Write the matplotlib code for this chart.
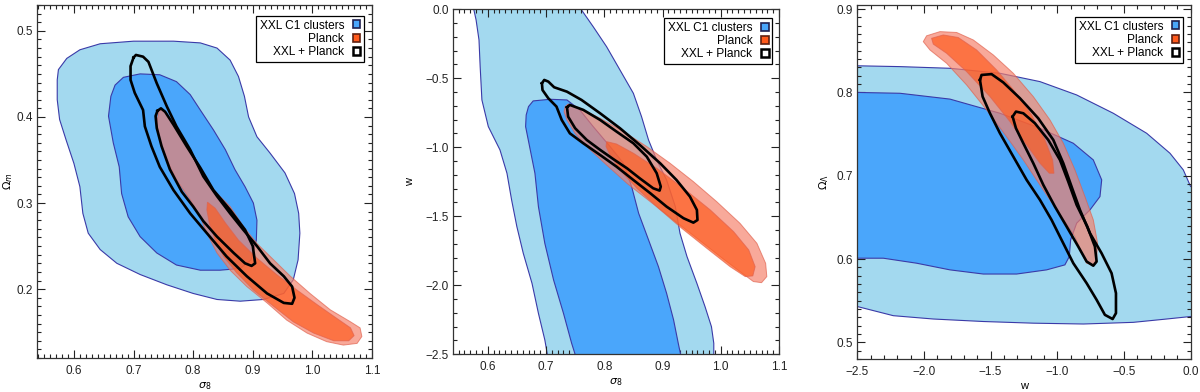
import matplotlib
matplotlib.use("Agg")
import matplotlib.pyplot as plt
from matplotlib.ticker import MultipleLocator, FuncFormatter
from matplotlib.patches import Patch

plt.rcParams["font.family"] = ["Liberation Sans", "DejaVu Sans"]

# Contour outlines, in data units (x, y).
# Panel 1: sigma_8 vs Omega_m
p1_xxl_outer = [(0.572, 0.443), (0.574, 0.455), (0.588, 0.468), (0.610, 0.478), (0.644, 0.485),
                (0.700, 0.488), (0.767, 0.488), (0.812, 0.486), (0.840, 0.480), (0.862, 0.466),
                (0.876, 0.447), (0.886, 0.424), (0.893, 0.400), (0.907, 0.377), (0.929, 0.358),
                (0.954, 0.335), (0.970, 0.311), (0.977, 0.288), (0.979, 0.265), (0.976, 0.234),
                (0.968, 0.211), (0.952, 0.195), (0.918, 0.188), (0.879, 0.186), (0.840, 0.188),
                (0.800, 0.195), (0.756, 0.205), (0.711, 0.217), (0.672, 0.230), (0.644, 0.246),
                (0.624, 0.265), (0.615, 0.288), (0.610, 0.319), (0.600, 0.346), (0.587, 0.373),
                (0.576, 0.397), (0.572, 0.420)]
p1_xxl_inner = [(0.669, 0.437), (0.683, 0.446), (0.711, 0.450), (0.744, 0.449), (0.772, 0.441),
                (0.795, 0.426), (0.812, 0.408), (0.834, 0.385), (0.854, 0.362), (0.870, 0.339),
                (0.887, 0.319), (0.901, 0.300), (0.907, 0.280), (0.906, 0.257), (0.897, 0.234),
                (0.879, 0.224), (0.845, 0.222), (0.812, 0.222), (0.772, 0.228), (0.739, 0.242),
                (0.711, 0.261), (0.691, 0.284), (0.680, 0.311), (0.676, 0.342), (0.666, 0.370),
                (0.658, 0.401), (0.662, 0.424)]
p1_planck_outer = [(0.743, 0.409), (0.756, 0.404), (0.772, 0.385), (0.789, 0.366), (0.812, 0.339),
                   (0.834, 0.315), (0.862, 0.296), (0.884, 0.273), (0.907, 0.253), (0.935, 0.234),
                   (0.963, 0.215), (0.996, 0.195), (1.030, 0.176), (1.064, 0.162), (1.080, 0.155),
                   (1.083, 0.145), (1.075, 0.137), (1.052, 0.135), (1.024, 0.139), (0.991, 0.149),
                   (0.957, 0.164), (0.924, 0.184), (0.890, 0.203), (0.862, 0.222), (0.840, 0.242),
                   (0.823, 0.265), (0.812, 0.284), (0.795, 0.304), (0.772, 0.327), (0.756, 0.350),
                   (0.744, 0.373), (0.739, 0.393)]
p1_planck_inner = [(0.824, 0.301), (0.837, 0.294), (0.854, 0.277), (0.876, 0.257), (0.907, 0.236),
                   (0.940, 0.217), (0.974, 0.199), (1.008, 0.182), (1.041, 0.166), (1.064, 0.155),
                   (1.070, 0.146), (1.061, 0.140), (1.036, 0.140), (1.002, 0.149), (0.968, 0.162),
                   (0.935, 0.180), (0.901, 0.199), (0.873, 0.219), (0.851, 0.238), (0.837, 0.257),
                   (0.827, 0.277), (0.823, 0.292)]
p1_joint_outer = [(0.700, 0.469), (0.704, 0.472), (0.716, 0.470), (0.725, 0.464), (0.739, 0.439),
                  (0.756, 0.412), (0.772, 0.389), (0.795, 0.362), (0.817, 0.331), (0.840, 0.308),
                  (0.862, 0.288), (0.884, 0.269), (0.907, 0.250), (0.929, 0.230), (0.952, 0.215),
                  (0.966, 0.203), (0.970, 0.190), (0.966, 0.183), (0.952, 0.184), (0.924, 0.195),
                  (0.890, 0.215), (0.856, 0.238), (0.823, 0.265), (0.795, 0.288), (0.767, 0.315),
                  (0.744, 0.342), (0.730, 0.366), (0.719, 0.389), (0.716, 0.408), (0.702, 0.428),
                  (0.695, 0.443), (0.695, 0.459)]
p1_joint_inner = [(0.740, 0.407), (0.746, 0.410), (0.753, 0.406), (0.767, 0.391), (0.789, 0.366),
                  (0.812, 0.341), (0.834, 0.315), (0.862, 0.292), (0.887, 0.269), (0.900, 0.250),
                  (0.904, 0.230), (0.898, 0.227), (0.887, 0.230), (0.868, 0.242), (0.840, 0.261),
                  (0.817, 0.279), (0.800, 0.296), (0.781, 0.313), (0.761, 0.339), (0.747, 0.366),
                  (0.739, 0.387), (0.737, 0.401)]

# Panel 2: sigma_8 vs w
p2_xxl_outer = [(0.575, 0.02), (0.580, -0.077), (0.585, -0.222), (0.587, -0.415), (0.590, -0.657),
                (0.601, -0.850), (0.621, -1.019), (0.633, -1.188), (0.641, -1.382), (0.650, -1.575),
                (0.661, -1.768), (0.676, -1.986), (0.687, -2.203), (0.698, -2.396), (0.704, -2.541),
                (0.988, -2.541), (0.988, -2.420), (0.984, -2.300), (0.973, -2.155), (0.959, -1.986),
                (0.942, -1.792), (0.930, -1.623), (0.922, -1.430), (0.907, -1.237), (0.890, -1.092),
                (0.876, -0.947), (0.864, -0.778), (0.850, -0.609), (0.827, -0.440), (0.804, -0.271),
                (0.781, -0.126), (0.761, -0.005), (0.758, 0.02)]
p2_xxl_inner = [(0.670, -0.705), (0.678, -0.664), (0.707, -0.652), (0.736, -0.657), (0.758, -0.729),
                (0.781, -0.850), (0.810, -0.995), (0.833, -1.116), (0.847, -1.285), (0.859, -1.478),
                (0.876, -1.671), (0.893, -1.865), (0.907, -2.058), (0.919, -2.251), (0.927, -2.420),
                (0.933, -2.541), (0.753, -2.541), (0.744, -2.420), (0.730, -2.203), (0.713, -1.961),
                (0.698, -1.696), (0.687, -1.430), (0.681, -1.188), (0.673, -1.019), (0.665, -0.850),
                (0.666, -0.766)]
p2_planck_outer = [(0.733, -0.705), (0.738, -0.686), (0.758, -0.717), (0.793, -0.790), (0.833, -0.886),
                   (0.873, -0.995), (0.913, -1.116), (0.953, -1.249), (0.993, -1.394), (1.033, -1.551),
                   (1.062, -1.696), (1.077, -1.841), (1.079, -1.937), (1.070, -1.981), (1.056, -1.973),
                   (1.033, -1.901), (0.999, -1.792), (0.959, -1.659), (0.919, -1.527), (0.879, -1.394),
                   (0.839, -1.261), (0.804, -1.128), (0.773, -1.007), (0.750, -0.899), (0.736, -0.802),
                   (0.731, -0.742)]
p2_planck_inner = [(0.804, -0.959), (0.821, -0.976), (0.850, -1.043), (0.890, -1.152), (0.936, -1.297),
                   (0.982, -1.454), (1.022, -1.611), (1.048, -1.744), (1.059, -1.865), (1.055, -1.932),
                   (1.042, -1.937), (1.016, -1.865), (0.976, -1.732), (0.933, -1.587), (0.893, -1.442),
                   (0.856, -1.297), (0.827, -1.164), (0.810, -1.056), (0.803, -0.995)]
p2_joint_outer = [(0.693, -0.536), (0.697, -0.512), (0.704, -0.524), (0.714, -0.565), (0.736, -0.597),
                  (0.761, -0.657), (0.793, -0.754), (0.827, -0.862), (0.861, -0.983), (0.896, -1.116),
                  (0.924, -1.237), (0.947, -1.357), (0.959, -1.454), (0.960, -1.527), (0.953, -1.546),
                  (0.936, -1.514), (0.907, -1.430), (0.879, -1.333), (0.850, -1.237), (0.821, -1.140),
                  (0.793, -1.056), (0.764, -0.971), (0.741, -0.899), (0.727, -0.802), (0.718, -0.705),
                  (0.704, -0.645), (0.694, -0.585)]
p2_joint_inner = [(0.736, -0.710), (0.741, -0.693), (0.764, -0.729), (0.793, -0.802), (0.821, -0.886),
                  (0.850, -0.971), (0.873, -1.068), (0.890, -1.188), (0.897, -1.285), (0.895, -1.314),
                  (0.884, -1.297), (0.861, -1.225), (0.839, -1.152), (0.816, -1.087), (0.793, -1.019),
                  (0.770, -0.947), (0.750, -0.862), (0.738, -0.778)]

# Panel 3: w vs Omega_Lambda
p3_xxl_outer = [(-2.555, 0.832), (-2.5, 0.832), (-2.18, 0.831), (-1.805, 0.829), (-1.43, 0.823),
                (-1.13, 0.813), (-0.855, 0.797), (-0.58, 0.775), (-0.33, 0.751), (-0.155, 0.727),
                (-0.055, 0.707), (0.0, 0.687), (0.045, 0.687), (0.045, 0.529), (0.0, 0.531),
                (-0.18, 0.528), (-0.43, 0.524), (-0.805, 0.522), (-1.18, 0.523), (-1.555, 0.525),
                (-1.93, 0.528), (-2.23, 0.532), (-2.5, 0.543), (-2.555, 0.543)]
p3_xxl_inner = [(-2.555, 0.800), (-2.5, 0.800), (-2.18, 0.799), (-1.805, 0.792), (-1.43, 0.775),
                (-1.13, 0.757), (-0.88, 0.739), (-0.73, 0.719), (-0.667, 0.695), (-0.68, 0.675),
                (-0.755, 0.659), (-0.855, 0.643), (-0.90, 0.623), (-0.91, 0.603), (-0.943, 0.593),
                (-1.08, 0.587), (-1.305, 0.582), (-1.555, 0.582), (-1.805, 0.587), (-2.055, 0.595),
                (-2.305, 0.601), (-2.5, 0.601), (-2.555, 0.601)]
p3_planck_outer = [(-2.005, 0.861), (-1.98, 0.868), (-1.88, 0.873), (-1.755, 0.872), (-1.63, 0.863),
                   (-1.48, 0.845), (-1.33, 0.823), (-1.18, 0.795), (-1.055, 0.767), (-0.955, 0.739),
                   (-0.868, 0.707), (-0.793, 0.675), (-0.73, 0.647), (-0.698, 0.619), (-0.705, 0.599),
                   (-0.735, 0.593), (-0.78, 0.595), (-0.818, 0.607), (-0.868, 0.627), (-0.943, 0.645),
                   (-1.03, 0.665), (-1.13, 0.689), (-1.255, 0.719), (-1.38, 0.747), (-1.53, 0.779),
                   (-1.68, 0.809), (-1.83, 0.835), (-1.955, 0.851)]
p3_planck_inner = [(-1.943, 0.865), (-1.855, 0.869), (-1.743, 0.866), (-1.605, 0.851), (-1.455, 0.827),
                   (-1.318, 0.801), (-1.193, 0.773), (-1.093, 0.743), (-1.035, 0.719), (-1.025, 0.703),
                   (-1.06, 0.703), (-1.13, 0.715), (-1.23, 0.737), (-1.355, 0.765), (-1.505, 0.795),
                   (-1.68, 0.825), (-1.83, 0.847), (-1.93, 0.858)]
p3_joint_outer = [(-1.58, 0.815), (-1.568, 0.821), (-1.493, 0.822), (-1.405, 0.812), (-1.28, 0.793),
                  (-1.143, 0.769), (-1.03, 0.743), (-0.955, 0.715), (-0.893, 0.687), (-0.83, 0.659),
                  (-0.755, 0.631), (-0.668, 0.607), (-0.593, 0.583), (-0.56, 0.559), (-0.56, 0.535),
                  (-0.585, 0.528), (-0.643, 0.533), (-0.705, 0.551), (-0.78, 0.571), (-0.88, 0.595),
                  (-0.968, 0.623), (-1.043, 0.647), (-1.13, 0.671), (-1.23, 0.695), (-1.33, 0.723),
                  (-1.43, 0.751), (-1.505, 0.775), (-1.56, 0.795)]
p3_joint_inner = [(-1.335, 0.771), (-1.31, 0.777), (-1.255, 0.775), (-1.168, 0.763), (-1.068, 0.743),
                  (-0.98, 0.719), (-0.918, 0.693), (-0.855, 0.665), (-0.775, 0.639), (-0.718, 0.615),
                  (-0.705, 0.597), (-0.73, 0.592), (-0.78, 0.597), (-0.843, 0.615), (-0.93, 0.639),
                  (-1.018, 0.663), (-1.105, 0.689), (-1.18, 0.715), (-1.255, 0.739), (-1.31, 0.757)]

legend_labels = ["XXL C1 clusters", "Planck", "XXL + Planck"]

# Colours
blue_light = "#a3d9ef"
blue_dark = "#4aa6fb"
blue_edge = "#3a3aa8"
planck_light = "#f5806a"
planck_dark = "#ff5a1c"
planck_edge = "#e0604c"

# one decimal, with a proper minus sign
fmt = FuncFormatter(lambda v, pos: f"{v:.1f}".replace("-", "\u2212"))


def draw_panel(ax, xxl, planck, joint, leg_anchor):
    ax.fill(*zip(*xxl[0]), facecolor=blue_light, edgecolor=blue_edge, lw=0.8, zorder=1)
    ax.fill(*zip(*xxl[1]), facecolor=blue_dark, edgecolor=blue_edge, lw=0.8, zorder=2)
    ax.fill(*zip(*planck[0]), facecolor=planck_light, edgecolor=planck_edge, lw=0.7,
            alpha=0.68, zorder=3)
    ax.fill(*zip(*planck[1]), facecolor=planck_dark, edgecolor=planck_edge, lw=0.7,
            alpha=0.68, zorder=4)
    for c in joint:
        xs, ys = zip(*c)
        ax.plot(list(xs) + [xs[0]], list(ys) + [ys[0]], color="black", lw=1.9,
                solid_joinstyle="round", zorder=5)

    handles = [Patch(facecolor=blue_dark, edgecolor="#202050", lw=1.2),
               Patch(facecolor=planck_dark, edgecolor="#602010", lw=1.2),
               Patch(facecolor="white", edgecolor="black", lw=1.8)]
    leg = ax.legend(handles, legend_labels, loc="upper right", bbox_to_anchor=leg_anchor,
                    markerfirst=False, fontsize=8.6, handlelength=0.65, handleheight=0.65,
                    handletextpad=0.7, labelspacing=0.1, borderpad=0.3, borderaxespad=0,
                    fancybox=False, framealpha=1)
    leg.get_frame().set_edgecolor("black")
    leg.get_frame().set_linewidth(0.9)
    leg.set_zorder(10)

    ax.xaxis.set_major_formatter(fmt)
    ax.yaxis.set_major_formatter(fmt)
    ax.tick_params(which="both", direction="in", top=True, right=True,
                   labelsize=8.5, width=0.8, colors="#222222")
    ax.tick_params(which="major", length=6)
    ax.tick_params(which="minor", length=3)
    ax.tick_params(axis="x", which="major", pad=5)
    ax.tick_params(axis="y", which="major", pad=3)
    for s in ax.spines.values():
        s.set_linewidth(0.9)
        s.set_color("#333333")


fig = plt.figure(figsize=(12, 3.92), dpi=100)

ax1 = fig.add_axes([0.0308, 0.0867, 0.2792, 0.9005])
draw_panel(ax1, (p1_xxl_outer, p1_xxl_inner), (p1_planck_outer, p1_planck_inner),
           (p1_joint_outer, p1_joint_inner), (0.976, 0.969))
ax1.set_xlim(0.538, 1.1)
ax1.set_ylim(0.12, 0.53)
ax1.xaxis.set_major_locator(MultipleLocator(0.1))
ax1.xaxis.set_minor_locator(MultipleLocator(0.01))
ax1.yaxis.set_major_locator(MultipleLocator(0.1))
ax1.yaxis.set_minor_locator(MultipleLocator(0.01))
ax1.set_xlabel(r"$\sigma_8$", fontsize=8, labelpad=2)
ax1.set_ylabel(r"$\Omega_m$", fontsize=8, labelpad=1)

ax2 = fig.add_axes([0.3778, 0.0962, 0.2714, 0.8801])
draw_panel(ax2, (p2_xxl_outer, p2_xxl_inner), (p2_planck_outer, p2_planck_inner),
           (p2_joint_outer, p2_joint_inner), (0.979, 0.974))
ax2.set_xlim(0.541, 1.1)
ax2.set_ylim(-2.5, 0.0)
ax2.xaxis.set_major_locator(MultipleLocator(0.1))
ax2.xaxis.set_minor_locator(MultipleLocator(0.01))
ax2.yaxis.set_major_locator(MultipleLocator(0.5))
ax2.yaxis.set_minor_locator(MultipleLocator(0.1))
ax2.set_xlabel(r"$\sigma_8$", fontsize=8, labelpad=2)
ax2.set_ylabel("w", fontsize=8, labelpad=8)

ax3 = fig.add_axes([0.7144, 0.0842, 0.2778, 0.9031])
draw_panel(ax3, (p3_xxl_outer, p3_xxl_inner), (p3_planck_outer, p3_planck_inner),
           (p3_joint_outer, p3_joint_inner), (0.977, 0.966))
ax3.set_xlim(-2.5, 0.0)
ax3.set_ylim(0.48, 0.905)
ax3.xaxis.set_major_locator(MultipleLocator(0.5))
ax3.xaxis.set_minor_locator(MultipleLocator(0.1))
ax3.yaxis.set_major_locator(MultipleLocator(0.1))
ax3.yaxis.set_minor_locator(MultipleLocator(0.01))
ax3.set_xlabel("w", fontsize=8, labelpad=2)
ax3.set_ylabel(r"$\Omega_\Lambda$", fontsize=8, labelpad=4)

fig.savefig("out.png", dpi=100)
